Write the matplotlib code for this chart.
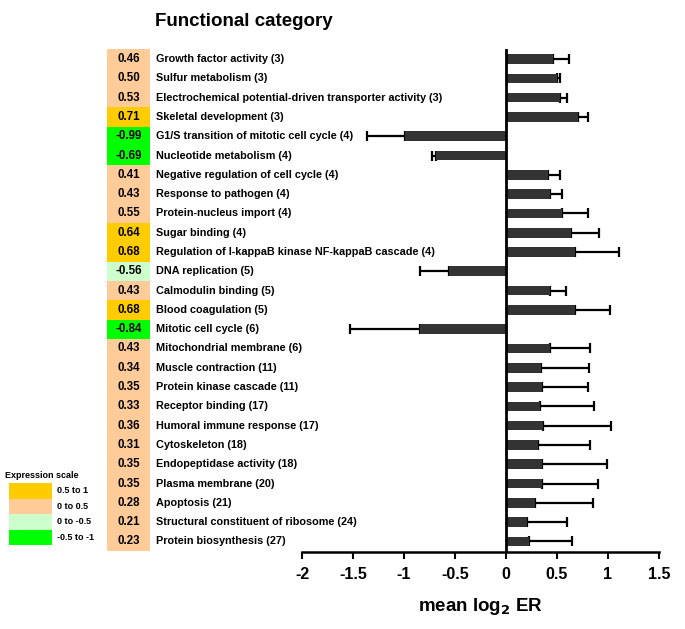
import matplotlib.pyplot as plt
import matplotlib.transforms as mtransforms
from matplotlib.patches import Rectangle

plt.rcParams['font.family'] = ['Liberation Sans', 'DejaVu Sans']

categories = [
    "Growth factor activity (3)",
    "Sulfur metabolism (3)",
    "Electrochemical potential-driven transporter activity (3)",
    "Skeletal development (3)",
    "G1/S transition of mitotic cell cycle (4)",
    "Nucleotide metabolism (4)",
    "Negative regulation of cell cycle (4)",
    "Response to pathogen (4)",
    "Protein-nucleus import (4)",
    "Sugar binding (4)",
    "Regulation of I-kappaB kinase NF-kappaB cascade (4)",
    "DNA replication (5)",
    "Calmodulin binding (5)",
    "Blood coagulation (5)",
    "Mitotic cell cycle (6)",
    "Mitochondrial membrane (6)",
    "Muscle contraction (11)",
    "Protein kinase cascade (11)",
    "Receptor binding (17)",
    "Humoral immune response (17)",
    "Cytoskeleton (18)",
    "Endopeptidase activity (18)",
    "Plasma membrane (20)",
    "Apoptosis (21)",
    "Structural constituent of ribosome (24)",
    "Protein biosynthesis (27)",
]
values = [0.46, 0.50, 0.53, 0.71, -0.99, -0.69, 0.41, 0.43, 0.55, 0.64, 0.68,
          -0.56, 0.43, 0.68, -0.84, 0.43, 0.34, 0.35, 0.33, 0.36, 0.31, 0.35,
          0.35, 0.28, 0.21, 0.23]
errors = [0.16, 0.03, 0.07, 0.09, 0.37, 0.04, 0.12, 0.12, 0.25, 0.27, 0.43,
          0.28, 0.16, 0.34, 0.69, 0.39, 0.47, 0.45, 0.53, 0.67, 0.51, 0.64,
          0.55, 0.57, 0.39, 0.42]
# expression scale level of each row: 0 = 0.5 to 1, 1 = 0 to 0.5, 2 = 0 to -0.5, 3 = -0.5 to -1
levels = [1, 1, 1, 0, 3, 3, 1, 1, 1, 0, 0, 2, 1, 0, 3, 1, 1, 1, 1, 1, 1, 1,
          1, 1, 1, 1]
scale_labels = ["0.5 to 1", "0 to 0.5", "0 to -0.5", "-0.5 to -1"]
scale_colors = ["#FFCC00", "#FFCC99", "#CCFFCC", "#00FF00"]

fig = plt.figure(figsize=(6.85, 6.29), dpi=100)
ax = fig.add_axes([302 / 685, 1 - 552 / 629, 357 / 685, 503 / 629])

y = list(range(len(values)))
lower = [e if v < 0 else 0 for v, e in zip(values, errors)]
upper = [e if v >= 0 else 0 for v, e in zip(values, errors)]
ax.barh(y, values, height=0.5, color="#333333", zorder=2)
ax.errorbar(values, y, xerr=[lower, upper], fmt="none", ecolor="black",
            elinewidth=1.6, capsize=3.8, capthick=1.6, zorder=1)
ax.axvline(0, color="black", lw=2, zorder=3)

ax.set_xlim(-2, 1.5)
ax.set_ylim(len(values) - 0.45, -0.52)
ax.set_xticks([-2, -1.5, -1, -0.5, 0, 0.5, 1, 1.5])
ax.set_xticklabels(["-2", "-1.5", "-1", "-0.5", "0", "0.5", "1", "1.5"],
                   fontsize=11.5, fontweight="bold")
ax.set_yticks([])
for s in ["left", "right", "top"]:
    ax.spines[s].set_visible(False)
ax.spines["bottom"].set_linewidth(1.8)
ax.tick_params(axis="x", length=5, width=1.5, pad=6)
ax.set_xlabel("mean log$_\\mathbf{2}$ ER", fontsize=13.5, fontweight="bold", labelpad=10)

# colour boxes and category labels on the left
trans = mtransforms.blended_transform_factory(fig.transFigure, ax.transData)
for i, (cat, v, lv) in enumerate(zip(categories, values, levels)):
    ax.add_patch(Rectangle((107 / 685, i - 0.5), 43 / 685, 1.0, transform=trans,
                           facecolor=scale_colors[lv], edgecolor="none", clip_on=False))
    ax.text(128.5 / 685, i, "%.2f" % v, transform=trans, ha="center", va="center",
            fontsize=8.3, fontweight="bold")
    ax.text(156 / 685, i, cat, transform=trans, ha="left", va="center",
            fontsize=7.8, fontweight="bold")

fig.text(155 / 685, 1 - 22 / 629, "Functional category", fontsize=13.5,
         fontweight="bold", ha="left", va="center")

# expression scale legend
fig.text(42 / 685, 1 - 476 / 629, "Expression scale", fontsize=6.5,
         fontweight="bold", ha="center", va="center")
sw_top = 483
sw_h = 15.5
for k, (lab, col) in enumerate(zip(scale_labels, scale_colors)):
    y0 = sw_top + k * sw_h
    fig.patches.append(Rectangle((9 / 685, 1 - (y0 + sw_h) / 629), 43 / 685, sw_h / 629,
                                 transform=fig.transFigure, facecolor=col,
                                 edgecolor="none"))
    fig.text(57 / 685, 1 - (y0 + sw_h / 2) / 629, lab, fontsize=6.5,
             fontweight="bold", ha="left", va="center")

fig.savefig("out.png", dpi=100)
